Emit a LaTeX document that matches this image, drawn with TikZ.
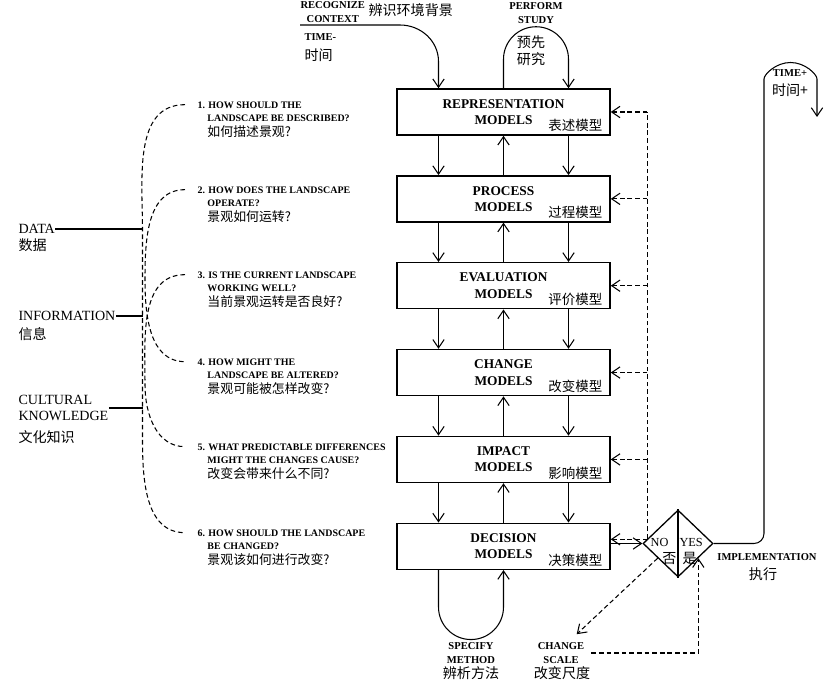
\documentclass[tikz,border=0pt]{standalone}
\usepackage{fontspec}
\setmainfont{Liberation Serif}
\newfontfamily\cjk{Noto Sans CJK SC}
\usetikzlibrary{positioning,calc,shapes.geometric,arrows.meta}

\begin{document}
\begin{tikzpicture}[x=0.3mm,y=0.3mm,line width=0.9pt,
  >={Straight Barb[length=2.5mm,width=3.4mm]},
  node distance=11.8mm,
  modelbox/.style={draw,line width=1.3pt,minimum width=63.9mm,minimum height=13.8mm,inner sep=0pt,align=center,font=\bfseries\fontsize{11.4}{13.8}\selectfont},
  modelcn/.style={anchor=base east,inner sep=0pt,xshift=-2.4mm,yshift=1.5mm,font=\cjk\fontsize{11.5}{14}\selectfont},
  question/.style={anchor=north west,inner sep=0pt,align=left,font=\bfseries\fontsize{8.5}{11}\selectfont},
  caps/.style={inner sep=0pt,align=center,font=\bfseries\fontsize{9}{11.5}\selectfont},
  kind/.style={inner sep=0pt,anchor=west,align=left,font=\fontsize{12}{13.6}\selectfont},
  cn/.style={inner sep=0pt,align=center,font=\cjk\fontsize{12}{14.5}\selectfont},
  feedback/.style={dash pattern=on 4pt off 2.5pt}]

\useasboundingbox (0,0) rectangle (826,689);

% model boxes
\node[modelbox] (rep) at (503.5,577) {REPRESENTATION\\MODELS};
\node[modelbox,below=of rep] (proc) {PROCESS\\MODELS};
\node[modelbox,below=of proc] (eval) {EVALUATION\\MODELS};
\node[modelbox,below=of eval] (chg) {CHANGE\\MODELS};
\node[modelbox,below=of chg] (imp) {IMPACT\\MODELS};
\node[modelbox,below=of imp] (dec) {DECISION\\MODELS};
\foreach \n/\t in {rep/表述模型,proc/过程模型,eval/评价模型,chg/改变模型,imp/影响模型,dec/决策模型}
  \node[modelcn] (\n-cn) at (\n.south east) {\t};

\foreach \a/\b in {rep/proc,proc/eval,eval/chg,chg/imp,imp/dec} {
  \draw[->] ([xshift=-19.5mm]\a.south) -- ([xshift=-19.5mm]\b.north);
  \draw[->] ([xshift=19.5mm]\a.south) -- ([xshift=19.5mm]\b.north);
  \draw[->] (\b.north) -- (\a.south);
}

% top inputs
\node[caps,anchor=south west] (rc) at (300,666) {RECOGNIZE\\CONTEXT};
\node[cn,anchor=west] (rc-cn) at (368,679) {辨识环境背景};
\node[caps,anchor=west] (tm) at (304,652) {TIME-};
\node[cn,anchor=west] (tm-cn) at (304,634) {时间};
\draw[->] ([yshift=-0.6mm]rc.south west) -- ++(100,0) to[out=0,in=90] ([xshift=-19.5mm,yshift=8mm]rep.north) -- ([xshift=-19.5mm]rep.north);

\node[caps] (ps) at (536,676) {PERFORM\\STUDY};
\node[cn] (ps-cn) at (531,638) {预先\\研究};
\draw[->] (rep.north) -- ++(0,29) arc[start angle=180,end angle=0,radius=32.5] -- ([xshift=19.5mm]rep.north);

% bottom loop
\node[caps] (sm) at (471,36) {SPECIFY\\METHOD};
\node[cn] (sm-cn) at (471,16) {辨析方法};
\draw[->] ([xshift=-19.5mm]dec.south) -- ++(0,-37) arc[start angle=180,end angle=360,radius=32.5] -- (dec.south);

% decision
\node[diamond,draw,line width=1.1pt,minimum width=21mm,minimum height=20.1mm,inner sep=0pt] (dia) at (678,145.5) {};
\draw[line width=1.1pt] (dia.north) -- (dia.south);
\node[inner sep=0pt,anchor=east,font=\fontsize{10.5}{12}\selectfont] (no) at ([xshift=-2.7mm,yshift=0.3mm]dia.center) {NO};
\node[inner sep=0pt,anchor=west,font=\fontsize{10.5}{12}\selectfont] (yes) at ([xshift=0.3mm,yshift=0.3mm]dia.center) {YES};
\node[cn,anchor=east] (no-cn) at ([xshift=-0.3mm,yshift=-4.4mm]dia.center) {否};
\node[cn,anchor=west] (yes-cn) at ([xshift=1.2mm,yshift=-4.4mm]dia.center) {是};
\draw[->] (dec.east |- dia.west) -- (dia.west);

% feedback to the models
\coordinate (fbbot) at ($(dia.west)!0.14!(dia.north)$);
\coordinate (decin) at ([yshift=2.1mm]dec.east);
\draw[feedback] (fbbot) -- (fbbot |- rep.east);
\foreach \n in {rep,proc,eval,chg,imp}
  \draw[feedback,->] (fbbot |- \n.east) -- (\n.east);
\draw[feedback,->] (fbbot |- decin) -- (decin);

% change scale
\node[caps] (cs) at (561,36) {CHANGE\\SCALE};
\node[cn] (cs-cn) at (562,16) {改变尺度};
\draw[feedback,->] ($(dia.west)!0.43!(dia.south)$) -- ([xshift=-2.4mm,yshift=2.4mm]cs.north east);
\draw[feedback,->] ([xshift=2mm]cs.east) -| ($(dia.south)!0.57!(dia.east)$);

% implementation
\node[caps] (impl) at (767,132) {IMPLEMENTATION};
\node[cn] (impl-cn) at (763,115) {执行};
\node[caps] (tp) at (790,616) {TIME+};
\node[cn] (tp-cn) at (790,599) {时间+};
\coordinate (future) at (817,572);
\draw[->,rounded corners=3mm] (dia.east) -- (764,145.5) -- (764,600) arc[start angle=180,end angle=0,radius=26.5] -- (future);

% questions
\node[question] (q1) at (197,588) {1. HOW SHOULD THE\\\phantom{1.\ }LANDSCAPE BE DESCRIBED?\\[2.6pt]\phantom{1.\ }{\cjk\mdseries\fontsize{11}{13}\selectfont 如何描述景观?}};
\node[question] (q2) at (197,503) {2. HOW DOES THE LANDSCAPE\\\phantom{2.\ }OPERATE?\\[2.6pt]\phantom{2.\ }{\cjk\mdseries\fontsize{11}{13}\selectfont 景观如何运转?}};
\node[question] (q3) at (197,418) {3. IS THE CURRENT LANDSCAPE\\\phantom{3.\ }WORKING WELL?\\[2.6pt]\phantom{3.\ }{\cjk\mdseries\fontsize{11}{13}\selectfont 当前景观运转是否良好?}};
\node[question] (q4) at (197,331) {4. HOW MIGHT THE\\\phantom{4.\ }LANDSCAPE BE ALTERED?\\[2.6pt]\phantom{4.\ }{\cjk\mdseries\fontsize{11}{13}\selectfont 景观可能被怎样改变?}};
\node[question] (q5) at (197,246) {5. WHAT PREDICTABLE DIFFERENCES\\\phantom{5.\ }MIGHT THE CHANGES CAUSE?\\[2.6pt]\phantom{5.\ }{\cjk\mdseries\fontsize{11}{13}\selectfont 改变会带来什么不同?}};
\node[question] (q6) at (197,160) {6. HOW SHOULD THE LANDSCAPE\\\phantom{6.\ }BE CHANGED?\\[2.6pt]\phantom{6.\ }{\cjk\mdseries\fontsize{11}{13}\selectfont 景观该如何进行改变?}};
\foreach \i in {1,...,6}
  \coordinate (e\i) at ([xshift=-3.6mm,yshift=-1.1mm]q\i.north west);

% kinds of knowledge
\coordinate (spine) at (142.5,0);
\node[kind] (data) at (18,460) {DATA};
\node[cn,anchor=west] (data-cn) at (18,444) {数据};
\node[kind] (info) at (18,373) {INFORMATION};
\node[cn,anchor=west] (info-cn) at (18,355) {信息};
\node[kind] (ck) at (18,281) {CULTURAL\\KNOWLEDGE};
\node[cn,anchor=west] (ck-cn) at (18,252) {文化知识};
\draw (data.east) -- (data.east -| spine);
\draw (info.east) -- (info.east -| spine);
\draw (ck.east) -- (ck.east -| spine);

\draw[feedback] (e1) to[out=180,in=90] (142.5,459) -- (142.5,250) to[out=-90,in=180] (e6);
\draw[feedback] (e2) to[out=180,in=90] (145,409) to[out=-90,in=180] (e4);
\draw[feedback] (e3) to[out=180,in=90] (145,304) to[out=-90,in=180] (e5);

\end{tikzpicture}
\end{document}
